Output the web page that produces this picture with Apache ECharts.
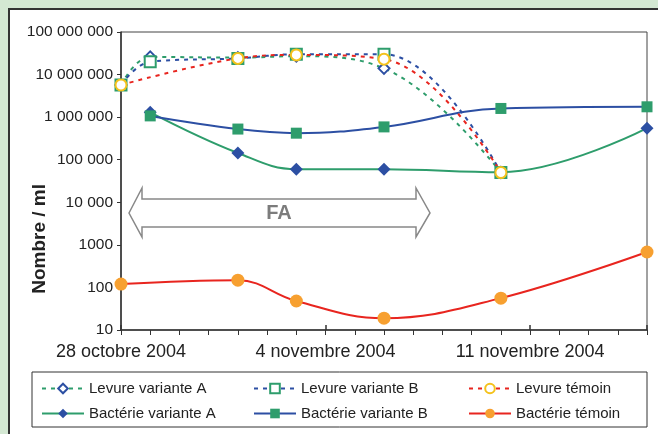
<!DOCTYPE html>
<html>
<head>
<meta charset="utf-8">
<script src="https://cdn.jsdelivr.net/npm/echarts@6/dist/echarts.min.js"></script>
<style>
  html, body { margin: 0; padding: 0; background: #d4e8d3; }
  #chart { width: 658px; height: 434px; }
</style>
</head>
<body>
<div id="chart"></div>
<script>
  // jours depuis le 28 octobre 2004
  var levureA = [[0, 5.7e6], [1, 2.6e7], [4, 2.5e7], [6, 2.7e7], [9, 1.4e7], [13, 5e4]];
  var levureB = [[0, 5.7e6], [1, 2.0e7], [4, 2.4e7], [6, 3.0e7], [9, 3.0e7], [13, 5e4]];
  var levureTemoin = [[0, 5.7e6], [4, 2.4e7], [6, 2.9e7], [9, 2.3e7], [13, 5e4]];
  var bacterieA = [[1, 1.3e6], [4, 1.44e5], [6, 6.0e4], [9, 6.0e4], [13, 5.1e4], [18, 5.5e5]];
  var bacterieB = [[1, 1.07e6], [4, 5.25e5], [6, 4.2e5], [9, 5.9e5], [13, 1.6e6], [18, 1.75e6]];
  var bacterieTemoin = [[0, 120], [4, 148], [6, 48], [9, 19], [13, 56], [18, 680]];

  var xTickDays = [0, 7, 14];
  var xTickLabels = ['28 octobre 2004', '4 novembre 2004', '11 novembre 2004'];
  var yTicks = [10, 100, 1000, 10000, 100000, 1000000, 10000000, 100000000];
  var yTickLabels = ['10', '100', '1000', '10 000', '100 000', '1 000 000', '10 000 000', '100 000 000'];

  var GREEN = '#2e9d6c', BLUE = '#2c4fa3', RED = '#e8251f', ORANGE = '#f7a030', YELLOW = '#f4c21c';
  var font = '"Liberation Sans", Arial, sans-serif';

  var myChart = echarts.init(document.getElementById('chart'));

  function levure(name, data, lineColor, symbol, symColor) {
    return {
      name: name, type: 'line', data: data, smooth: 0.4,
      symbol: symbol, symbolSize: 11,
      lineStyle: { color: lineColor, width: 2, type: [4, 5] },
      itemStyle: { color: symColor, borderColor: symColor, borderWidth: 1.5 },
      z: 3
    };
  }
  function bacterie(name, data, lineColor, symbol, symColor, size) {
    return {
      name: name, type: 'line', data: data, smooth: 0.4,
      symbol: symbol, symbolSize: size,
      lineStyle: { color: lineColor, width: 2 },
      itemStyle: { color: symColor, borderWidth: 0 },
      z: 2
    };
  }
  // une légende par entrée, pour garder les colonnes alignées
  function legend(left, top, name) {
    return {
      left: left, top: top, itemWidth: 42, itemHeight: 12, padding: 0,
      textStyle: { fontFamily: font, fontSize: 15, color: '#222' },
      data: [name]
    };
  }

  var option = {
    backgroundColor: '#d4e8d3',
    animation: false,
    grid: { left: 121, top: 32, right: 11, bottom: 104, show: true, borderColor: '#444', borderWidth: 1, backgroundColor: '#fff' },
    legend: [
      legend(41, 381, 'Levure variante A'),
      legend(41, 406, 'Bactérie variante A'),
      legend(253, 381, 'Levure variante B'),
      legend(253, 406, 'Bactérie variante B'),
      legend(468, 381, 'Levure témoin'),
      legend(468, 406, 'Bactérie témoin')
    ],
    xAxis: [{
      type: 'value', min: 0, max: 18, interval: 1,
      axisLine: { lineStyle: { color: '#333', width: 1.5 } },
      axisTick: { length: 5, lineStyle: { color: '#333' } },
      splitLine: { show: false },
      axisLabel: {
        margin: 13, fontFamily: font, fontSize: 18, color: '#222',
        formatter: function (v) {
          var i = xTickDays.indexOf(v);
          return i >= 0 ? xTickLabels[i] : '';
        }
      }
    }, {
      type: 'value', min: 0, max: 18, interval: 7, position: 'bottom',
      axisLine: { show: false },
      axisTick: { inside: true, length: 5, lineStyle: { color: '#333', width: 1.5 } },
      axisLabel: { show: false }, splitLine: { show: false }
    }],
    yAxis: {
      type: 'log', min: 10, max: 1e8, logBase: 10,
      axisLine: { show: true, lineStyle: { color: '#333', width: 1.5 } },
      axisTick: { show: true, length: 4, lineStyle: { color: '#333' } },
      splitLine: { show: false },
      axisLabel: {
        margin: 8, fontFamily: font, fontSize: 15.5, color: '#222',
        formatter: function (v) {
          var i = yTicks.indexOf(Math.round(v));
          return i >= 0 ? yTickLabels[i] : '';
        }
      }
    },
    graphic: [
      { type: 'rect', z: -10, shape: { x: 9, y: 9, width: 700, height: 500 },
        style: { fill: '#fff', stroke: '#333', lineWidth: 2 } },
      { type: 'text', left: 30, top: 184, rotation: Math.PI / 2, z: 10,
        style: { text: 'Nombre / ml', font: 'bold 19px ' + font, fill: '#222' } },
      { type: 'polygon', z: 10,
        shape: { points: [[129, 213], [142, 188], [142, 199], [416, 199], [416, 188], [430, 213],
                          [416, 237], [416, 227], [142, 227], [142, 237]] },
        style: { fill: 'none', stroke: '#888', lineWidth: 1.5 } },
      { type: 'text', x: 279, y: 213, z: 10,
        style: { text: 'FA', font: 'bold 20px ' + font, fill: '#7c7c7c', align: 'center', verticalAlign: 'middle' } },
      { type: 'rect', z: -5, shape: { x: 32, y: 372, width: 615, height: 55 },
        style: { fill: '#fff', stroke: '#333', lineWidth: 1 } }
    ],
    series: [
      levure('Levure variante A', levureA, GREEN, 'emptyDiamond', BLUE),
      levure('Levure variante B', levureB, BLUE, 'emptyRect', GREEN),
      levure('Levure témoin', levureTemoin, RED, 'emptyCircle', YELLOW),
      bacterie('Bactérie variante A', bacterieA, GREEN, 'diamond', BLUE, 13),
      bacterie('Bactérie variante B', bacterieB, BLUE, 'rect', GREEN, 11),
      bacterie('Bactérie témoin', bacterieTemoin, RED, 'circle', ORANGE, 13)
    ]
  };
  myChart.setOption(option);
</script>
</body>
</html>
